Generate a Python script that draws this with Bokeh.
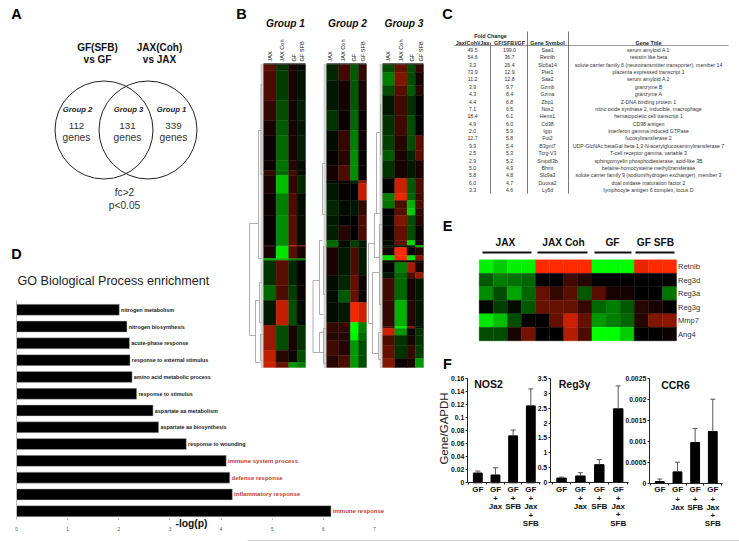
from math import pi
from itertools import accumulate
from bokeh.plotting import figure
from bokeh.embed import file_html
from bokeh.resources import INLINE
from bokeh.core.properties import value
from bokeh.models import Range1d, LinearAxis, FixedTicker, LinearColorMapper, NumeralTickFormatter, ColumnDataSource

# ---------- data ----------
venn_titles = ["GF(SFB)", "vs GF", "JAX(Coh)", "vs JAX"]
venn_groups = ["Group 2", "Group 3", "Group 1"]
venn_counts = ["112", "131", "339"]

heat_columns = ["JAX", "JAX Coh", "GF", "GF SFB"]
heat_samples = [3, 3, 2, 2]
# band height (gene rows), JAX, JAX Coh, GF, GF SFB (log ratio: green < 0 < red)
group1 = [(6,.35,-.2,.1,-.05),(30,.3,-.25,.1,-.08),(20,.2,-.3,.08,-.12),(15,.1,-.35,.08,-.1),
          (25,.05,-.4,.1,-.12),(10,.05,-.45,.15,-.05),(5,.2,-.4,.25,-.05),(18,.1,-.75,.2,-.15),
          (22,.05,-.5,.3,-.05),(30,.03,-.55,.35,-.05),(1,.1,-.6,.7,.5),(12,.1,-.9,.35,.1),
          (2,-.7,-.7,-.5,-.5),(25,-.2,.35,-.15,.03),(15,-.4,.3,-.25,.05),(25,-.1,.75,-.3,-.05),
          (25,.6,-.3,.1,-.2),(12,.75,.15,.05,-.3),(5,.8,.4,-.6,-.5)]
group2 = [(16,-.15,.25,-.35,.2),(30,-.1,.08,-.35,.1),(20,-.2,.05,-.4,.03),(20,-.05,.2,-.5,.05),
          (15,.03,.15,-.55,0),(15,.08,.3,-.55,0),(3,0,.05,-.15,.5),(17,-.1,.03,0,.75),
          (15,-.15,-.05,-.1,.2),(10,-.1,-.02,0,.3),(15,-.12,.15,0,.3),(7,-.4,-.05,-.25,-.1),
          (28,.1,-.1,.3,-.1),(15,-.05,-.15,.4,.05),(12,-.05,-.35,.4,.05),(20,-.05,-.1,.95,.8),
          (10,.2,.2,-1,-.5),(8,.15,.15,-.95,-.4),(15,.25,.15,-.6,-.3),(12,.15,.3,-.6,-.3)]
group3 = [(8,-.3,.4,-.3,.2),(13,-.5,.5,-.3,.1),(10,-.3,.35,-.35,.15),(20,-.1,.25,-.2,.02),
          (20,-.2,.25,-.3,.03),(15,-.25,.15,-.3,.35),(10,-.35,.1,-.15,.35),(18,-.2,.1,-.1,.1),
          (15,0,.8,-.35,.3),(7,-.5,.9,-.4,.25),(8,-.45,.3,-.7,.3),(7,0,.35,-.8,.2),
          (10,-.03,.5,-.3,.15),(15,.03,.4,-.3,.05),(5,-.05,.4,-.85,.1),(2,-.1,-.1,-.1,-.7),
          (8,.1,1,0,.15),(5,-.85,1,-.9,.5),(2,0,.1,0,.1),(10,0,-.5,.65,.1),(6,-.1,-.4,.3,.6),
          (22,.25,-.4,.1,-.1),(26,.2,-.7,.15,-.1),(2,.3,-.9,.5,-.05),(7,.8,-.6,.05,-.2),
          (10,.3,-.2,.1,-.2),(13,.4,-.2,.2,-.25),(9,.5,.05,.1,-.6)]
# dendrogram merges: height, top gene row, bottom gene row, child height top, child height bottom
dendro1 = [(14,159,271,5,8),(5,66,194,2.5,2),(2.5,20,110,1,1),(8,236,298,4,3),(4,218,258,2,2),(3,270,296,1,1)]
dendro2 = [(13.5,216,288,7,7),(7,176,250,4,3),(4,99,150,1.5,1.5),(3,182,230,1,1),(7,268,288,3,2),(3,264,299,1,1)]
dendro3 = [(14,179,259,8,10),(8,149,193,6,2),(6,68,149,2,2),(2,40,90,1,1),(10,208,289,3,4),(4,268,295,1.5,1.5),(3,160,240,1,1)]

table_fc_jax = ["49.5","54.6","3.3","73.9","11.2","3.9","4.3","4.4","7.1","18.4","4.9","2.0","12.7","9.9","2.5","2.9","5.0","5.8","6.0","3.3"]
table_fc_gf = ["199.0","36.7","26.4","12.9","12.8","9.7","8.4","6.8","6.5","6.1","6.0","5.9","5.8","5.4","5.3","5.2","4.9","4.8","4.7","4.6"]
table_symbol = ["Saa1","Retnlb","Slc6a14","Plet1","Saa2","Gzmb","Gzma","Zbp1","Nos2","Hemt1","Cd38","Igtp","Fut2","B3gnt7","Tcrg-V3","Smpdl3b","Bhmt","Slc9a3","Duoxa2","Ly6d"]
table_title = ["serum amyloid A 1","resistin like beta","solute carrier family 6 (neurotransmitter transporter), member 14",
    "placenta expressed transcript 1","serum amyloid A 2","granzyme B","granzyme A","Z-DNA binding protein 1",
    "nitric oxide synthase 2, inducible, macrophage","hematopoietic cell transcript 1","CD38 antigen",
    "interferon gamma induced GTPase","fucosyltransferase 2","UDP-GlcNAc:betaGal beta-1,3-N-acetylglucosaminyltransferase 7",
    "T-cell receptor gamma, variable 3","sphingomyelin phosphodiesterase, acid-like 3B","betaine-homocysteine methyltransferase",
    "solute carrier family 9 (sodium/hydrogen exchanger), member 3","dual oxidase maturation factor 2","lymphocyte antigen 6 complex, locus D"]

go_terms = ["nitrogen metabolism","nitrogen biosynthesis","acute-phase response","response to external stimulus",
    "amino acid metabolic process","response to stimulus","aspartate aa metabolism","aspartate aa biosynthesis",
    "response to wounding","immune system process","defense response","inflammatory response","immune response"]
go_values = [2.01,2.16,2.21,2.22,2.26,2.35,2.67,2.78,3.32,4.10,4.17,4.22,6.15]
go_highlight = [False]*9 + [True]*4
go_ticks = [0,1,2,3,4,5,6,7]

e_genes = ["Retnlb","Reg3d","Reg3a","Reg3g","Mmp7","Ang4"]
e_groups = ["JAX","JAX Coh","GF","GF SFB"]
e_group_sizes = [4,4,3,3]
e_values = [[-.95,-.8,-.95,-.95, 1,1,1,1, -1,-1,-1, .9,1,1],
            [-.35,-.5,-.45,-.4, 0,0,.25,.15, 0,0,0, 0,0,0],
            [-.55,-.3,-.65,-.4, .4,.2,.35,-.35, .35,.1,.08, 0,0,-.45],
            [-.03,-.25,-.05,-.35, .4,.4,.4,.2, -.4,-.5,-.35, .15,.1,.03],
            [-.9,-.75,-.3,0, 0,.4,.8,.4, -.6,-.5,-.4, .15,.5,.55],
            [-.3,-.3,.1,.45, 0,0,.7,.3, -1,-1,-.8, 0,0,.05]]

f_labels = [["GF"],["GF","+","Jax"],["GF","+","SFB"],["GF","+","Jax","+","SFB"]]
nos2_vals = [.015,.012,.072,.118]; nos2_tops = [.018,.023,.081,.144]
nos2_ticks = [0,.02,.04,.06,.08,.1,.12,.14,.16]
reg3_vals = [.15,.22,.6,2.48]; reg3_tops = [.18,.33,.77,3.25]
reg3_ticks = [0,.5,1,1.5,2,2.5,3,3.5]
ccr6_vals = [.00004,.00027,.00097,.00123]; ccr6_tops = [.0001,.0005,.0013,.002]
ccr6_ticks = [0,.0005,.001,.0015,.002,.0025]

# ---------- canvas ----------
X0, X1, Y0, Y1 = 0, 739, 0, 541
FONT = value("Liberation Sans")
p = figure(width=X1-X0, height=Y1-Y0, x_range=(X0, X1), y_range=(Y1, Y0), x_axis_type=None, y_axis_type=None,
           min_border=0, outline_line_color=None, toolbar_location=None, output_backend="svg")
p.grid.visible = False

def xr(name, v0, p0, v1, p1):
    s = (v1-v0)/(p1-p0)
    p.extra_x_ranges[name] = Range1d(v0+(X0-p0)*s, v0+(X1-p0)*s)
def yr(name, v0, p0, v1, p1):
    s = (v1-v0)/(p1-p0)
    p.extra_y_ranges[name] = Range1d(v0+(Y1-p0)*s, v0+(Y0-p0)*s)

def txt(x, y, s, size, color="#111", bold=False, italic=False, align="center", angle=0):
    xs = x if isinstance(x, list) else [x]
    ys = y if isinstance(y, list) else [y]
    ss = s if isinstance(s, list) else [s]
    style = "bold italic" if bold and italic else "bold" if bold else "italic" if italic else "normal"
    p.text(xs, ys, text=ss, text_font=FONT, text_font_size=f"{size}px", text_font_style=style, text_color=color,
           text_align=align, text_baseline="middle", angle=angle)

# panel letters
for (x, y, s) in [(16,13,"A"),(241,13,"B"),(447,13,"C"),(16,253,"D"),(447,225,"E"),(447,363,"F")]:
    txt(x, y, s, 14.5, "#000", bold=True)

# ---------- A ----------
txt([97,97,159,159],[47,59,47,59],venn_titles,10,"#111",bold=True)
p.circle([103.5,147.5],[129.5,129.5],radius=49,fill_color=None,line_color="#222",line_width=1)
txt([77,128,171],[109,109,109],venn_groups,7.7,"#222",bold=True,italic=True)
txt([76,127,173],[125,125,125],venn_counts,9.8,"#333")
txt([76,127,173],[137,137,137],["genes"]*3,10.2,"#333")
txt([124,124],[192,205],["fc>2","p<0.05"],10.2,"#333")

# ---------- B ----------
palette = [(f"#{0:02x}{int(255*(1-i/127)):02x}00") for i in range(128)] + \
          [(f"#{int(255*i/127):02x}{int(42*i/127):02x}00") for i in range(128)]
cmap = LinearColorMapper(palette=palette, low=-1, high=1)
yr("rows", 0, 64, 303, 367)
edges = [0]+list(accumulate(heat_samples))
cols_px = [(263,305,[269,281,293,301]),(326,366,[329,342,353,362]),(382,423,[387,400,411,420])]
for k,(bands,dend,(left,right,lab),name) in enumerate(zip([group1,group2,group3],[dendro1,dendro2,dendro3],cols_px,["Group 1","Group 2","Group 3"])):
    xr(f"g{k}", 0, left, edges[-1], right)
    xr(f"d{k}", 0, left, 10, left-10)
    tops = [0]+list(accumulate(b[0] for b in bands))
    L,R,T,B,V = [],[],[],[],[]
    for r,b in enumerate(bands):
        for c in range(4):
            L.append(edges[c]);R.append(edges[c+1]);T.append(tops[r]);B.append(tops[r+1]);V.append(b[c+1])
    src = ColumnDataSource(dict(l=L,r=R,t=T,b=B,v=V))
    p.quad(left="l",right="r",top="t",bottom="b",source=src,x_range_name=f"g{k}",y_range_name="rows",
           fill_color={"field":"v","transform":cmap},line_color={"field":"v","transform":cmap},line_width=.4)
    xs,ys = [],[]
    for h,a,z,ha,hz in dend:
        xs.append([ha,h,h,hz]); ys.append([a,a,z,z])
    p.multi_line(xs,ys,x_range_name=f"d{k}",y_range_name="rows",line_color="#9a9a9a",line_width=.8)
    p.line([1.5,1.5],[0,tops[-1]],x_range_name=f"d{k}",y_range_name="rows",line_color="#aaaaaa",line_width=3,line_dash="1 1")
    txt((left+right)/2+1,23,name,10.2,"#111",bold=True,italic=True)
    p.segment([left],[63.4],[right],[63.4],line_color="#000",line_width=1)
    txt(lab,[61]*4,heat_columns,5.6,"#111",align="left",angle=pi/2)

# ---------- C ----------
n = len(table_symbol)
yr("trow", 0, 49.3, n-1, 189.7)
rows = list(range(n))
for xc,col in [(472,table_fc_jax),(509,table_fc_gf),(547,table_symbol),(648,table_title)]:
    p.text([xc]*n,rows,text=col,y_range_name="trow",text_font=FONT,text_font_size="5.2px",text_color="#333",
           text_align="center",text_baseline="middle")
txt(490,35.7,"Fold Change",5.4,"#222",bold=True)
txt([472,509,547,648],[42]*4,["Jax(Coh)/Jax","GF(SFB)/GF","Gene Symbol","Gene Title"],5.4,"#222",bold=True)
p.segment([454],[45],[728],[45],line_color="#999999",line_width=1)
p.segment([490,527,568],[42,31,31],[490,527,568],[193,193,193],line_color="#555555",line_width=.8)

# ---------- D ----------
xr("dx",0,16,7,374); yr("dy",0,309.3,12,510.7)
txt(17,280,"GO Biological Process enrichment",12.6,"#222",align="left")
p.hbar(y=list(range(len(go_values))),right=go_values,left=0,height=.655,x_range_name="dx",y_range_name="dy",
       fill_color="#000",line_color="#bbbbbb",line_width=.5)
for i,(v,t,h) in enumerate(zip(go_values,go_terms,go_highlight)):
    p.text([v+.035],[i],text=[t],x_range_name="dx",y_range_name="dy",text_font=FONT,text_font_style="bold",
           text_font_size="6px" if h else "5.4px",text_color="#c43c35" if h else "#222",text_baseline="middle")
axd = LinearAxis(x_range_name="dx",y_range_name="dy",fixed_location=12.45,bounds=(0,7),ticker=FixedTicker(ticks=go_ticks),
                 axis_line_color=None,major_tick_line_color="#888888",major_tick_out=1,major_tick_in=0,minor_tick_line_color=None,
                 major_label_text_font="Liberation Sans",major_label_text_font_size="4.6px",major_label_text_color="#555555",major_label_standoff=7)
p.add_layout(axd,"below")
ayd = LinearAxis(x_range_name="dx",y_range_name="dy",fixed_location=0,bounds=(-.55,12.45),ticker=FixedTicker(ticks=[]),
                 axis_line_color="#bbbbbb",axis_line_width=1,major_label_text_font_size="0px",major_tick_line_color=None,minor_tick_line_color=None)
p.add_layout(ayd,"left")
txt(191,522.7,"-log(p)",10.3,"#111",bold=True)

# ---------- E ----------
nc = len(e_values[0]); nr = len(e_genes)
xr("ex",0,478.7,nc,676); yr("ey",0,259.3,nr,340.3)
L,R,T,B,V = [],[],[],[],[]
for r,row in enumerate(e_values):
    for c,v in enumerate(row):
        L.append(c);R.append(c+1);T.append(r);B.append(r+1);V.append(v)
p.quad(left="l",right="r",top="t",bottom="b",source=ColumnDataSource(dict(l=L,r=R,t=T,b=B,v=V)),x_range_name="ex",y_range_name="ey",
       fill_color={"field":"v","transform":cmap},line_color={"field":"v","transform":cmap},line_width=.4)
p.text([nc+.1]*nr,[r+.5 for r in range(nr)],text=e_genes,x_range_name="ex",y_range_name="ey",text_font=FONT,text_font_size="7.6px",
       text_color="#333",text_baseline="middle")
txt([505,563,612,655],[242]*4,e_groups,10.2,"#111",bold=True)
p.segment([482,537,594,635],[252]*4,[531,587,631,674],[252]*4,line_color="#111",line_width=2)

# ---------- F ----------
txt(443,428,"Gene/GAPDH",11.5,"#222",angle=pi/2)
panels = [("nos",477.3,530.3,482.3,378,nos2_vals,nos2_tops,nos2_ticks,0.16,"NOS2",488,383,"0.[00]"),
          ("reg",561,617.7,482,378,reg3_vals,reg3_tops,reg3_ticks,3.5,"Reg3γ",574,383,"0.[0]"),
          ("ccr",659.3,712.3,482.7,377.7,ccr6_vals,ccr6_tops,ccr6_ticks,0.0025,"CCR6",675,384,"0.[0000]")]
for name,xa,xb,py0,py1,vals,tp,ticks,ymax,title,tx,ty,fmt in panels:
    xr(name+"x",0,xa,3,xb); yr(name+"y",0,py0,ymax,py1)
    idx = list(range(4))
    p.vbar(x=idx,top=vals,bottom=0,width=.5,x_range_name=name+"x",y_range_name=name+"y",fill_color="#000",line_color="#000")
    p.segment(idx,vals,idx,tp,x_range_name=name+"x",y_range_name=name+"y",line_color="#555555",line_width=1)
    p.scatter(idx,tp,marker="dash",size=5,x_range_name=name+"x",y_range_name=name+"y",line_color="#555555",line_width=1)
    ya = LinearAxis(x_range_name=name+"x",y_range_name=name+"y",fixed_location=-.6,bounds=(0,ymax),ticker=FixedTicker(ticks=ticks),
                    formatter=NumeralTickFormatter(format=fmt),axis_line_color="#222",major_tick_line_color="#222",major_tick_out=2,major_tick_in=0,
                    minor_tick_line_color=None,major_label_text_font="Liberation Sans",major_label_text_font_style="bold",
                    major_label_text_font_size="6.8px",major_label_text_color="#111",major_label_standoff=1)
    p.add_layout(ya,"left")
    xa_ = LinearAxis(x_range_name=name+"x",y_range_name=name+"y",fixed_location=0,bounds=(-.6,3.55),
                     ticker=FixedTicker(ticks=idx,minor_ticks=[-.5,.5,1.5,2.5,3.5]),
                     major_label_overrides={i:f_labels[i][0] for i in idx},axis_line_color="#222",major_tick_line_color=None,major_tick_out=0,major_tick_in=0,
                     minor_tick_line_color="#222",minor_tick_out=2,minor_tick_in=0,major_label_text_font="Liberation Sans",
                     major_label_text_font_style="bold",major_label_text_font_size="8px",
                     major_label_text_color="#111",major_label_standoff=0)
    p.add_layout(xa_,"below")
    for i,lines in enumerate(f_labels):
        for j,line in enumerate(lines[1:],start=1):
            p.text([i],[0],text=[line],x_range_name=name+"x",y_range_name=name+"y",y_offset=7.7+8.2*j,text_font=FONT,
                   text_font_size="8px",text_font_style="bold",text_color="#111",text_align="center",text_baseline="middle")
    txt(tx,ty,title,10.5,"#111",bold=True)

p.segment([247],[540.5],[739],[540.5],line_color="#aaaaaa",line_width=1)

open("out.html","w").write(file_html(p,INLINE))
